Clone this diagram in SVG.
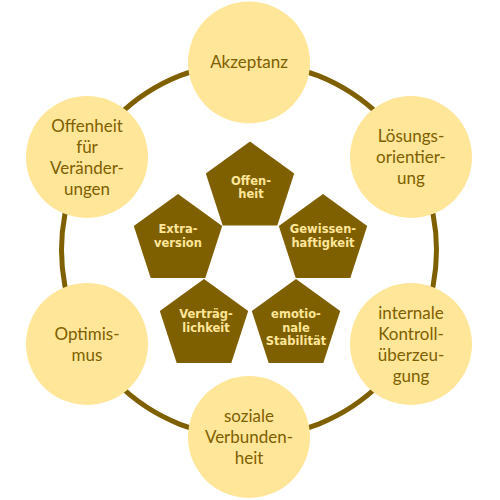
<svg xmlns="http://www.w3.org/2000/svg" xmlns:xlink="http://www.w3.org/1999/xlink" width="500" height="500" viewBox="0 0 500 500">
<style>
.outer{fill:#ffe699;}
.otxt{font-family:Lato,"Open Sans","Liberation Sans",sans-serif;font-size:17px;fill:#7f6000;text-anchor:middle;}
.pent{fill:#7f6000;}
.ptxt{font-family:"DejaVu Sans",Verdana,sans-serif;font-weight:bold;font-size:11.5px;fill:#ffe699;text-anchor:middle;}
.ring{fill:none;stroke:#7f6000;stroke-width:5;}
</style>
<defs>
<polygon id="pent" points="0,-46.5 44.2,-14.4 27.3,37.6 -27.3,37.6 -44.2,-14.4"/>
</defs>
<rect width="500" height="500" fill="#ffffff"/>
<g id="connectors">
<circle class="ring" cx="249" cy="250" r="187.5"/>
</g>
<g id="akzeptanz">
<circle class="outer" cx="249" cy="62.5" r="61"/>
<text class="otxt" x="249" y="68">Akzeptanz</text>
</g>
<g id="loesungsorientierung">
<circle class="outer" cx="411" cy="157" r="61"/>
<text class="otxt" x="411" y="142">Lösungs-</text>
<text class="otxt" x="411" y="163">orientier-</text>
<text class="otxt" x="411" y="184">ung</text>
</g>
<g id="kontrollueberzeugung">
<circle class="outer" cx="411" cy="344" r="61"/>
<text class="otxt" x="411" y="319">internale</text>
<text class="otxt" x="411" y="340">Kontroll-</text>
<text class="otxt" x="411" y="361">überzeu-</text>
<text class="otxt" x="411" y="382">gung</text>
</g>
<g id="verbundenheit">
<circle class="outer" cx="249" cy="437" r="61"/>
<text class="otxt" x="249" y="422">soziale</text>
<text class="otxt" x="249" y="443">Verbunden-</text>
<text class="otxt" x="249" y="464">heit</text>
</g>
<g id="optimismus">
<circle class="outer" cx="87" cy="344" r="61"/>
<text class="otxt" x="87" y="340">Optimis-</text>
<text class="otxt" x="87" y="361">mus</text>
</g>
<g id="offenheit-veraenderungen">
<circle class="outer" cx="87" cy="157" r="61"/>
<text class="otxt" x="87" y="132">Offenheit</text>
<text class="otxt" x="87" y="153">für</text>
<text class="otxt" x="87" y="174">Veränder-</text>
<text class="otxt" x="87" y="195">ungen</text>
</g>
<g id="p-offenheit">
<use xlink:href="#pent" class="pent" x="250" y="188"/>
<text class="ptxt" x="251" y="185">Offen-</text>
<text class="ptxt" x="251" y="198">heit</text>
</g>
<g id="p-extraversion">
<use xlink:href="#pent" class="pent" x="178" y="240.5"/>
<text class="ptxt" x="178" y="233">Extra-</text>
<text class="ptxt" x="178" y="247">version</text>
</g>
<g id="p-gewissenhaftigkeit">
<use xlink:href="#pent" class="pent" x="323" y="240.5"/>
<text class="ptxt" x="323" y="233">Gewissen-</text>
<text class="ptxt" x="323" y="247">haftigkeit</text>
</g>
<g id="p-vertraeglichkeit">
<use xlink:href="#pent" class="pent" x="204" y="325.5"/>
<text class="ptxt" x="206" y="318">Verträg-</text>
<text class="ptxt" x="206" y="332">lichkeit</text>
</g>
<g id="p-stabilitaet">
<use xlink:href="#pent" class="pent" x="296" y="325.5"/>
<text class="ptxt" x="296" y="318">emotio-</text>
<text class="ptxt" x="296" y="332">nale</text>
<text class="ptxt" x="296" y="345">Stabilität</text>
</g>
</svg>
